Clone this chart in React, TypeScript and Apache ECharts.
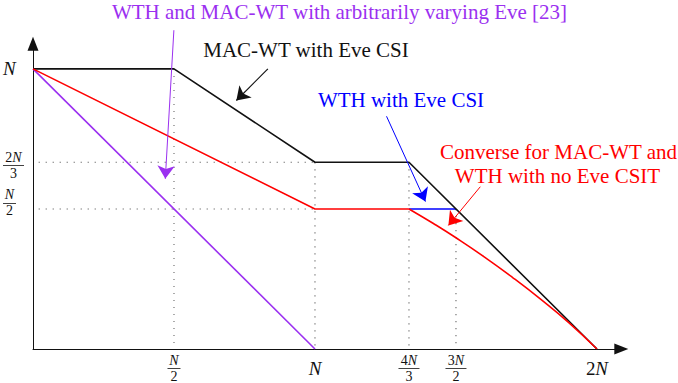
import React, { useEffect, useRef } from "react";
import * as echarts from "echarts";

// Tick positions (in units of N) and their labels
const X_TICKS = [0.5, 1, 4 / 3, 1.5, 2];
const X_LABELS = ["N/2", "N", "4N/3", "3N/2", "2N"];
const Y_TICKS = [1, 2 / 3, 0.5];
const Y_LABELS = ["N", "2N/3", "N/2"];
// vertical nudge of each y label (px, + = down), as in the reference
const Y_LABEL_SHIFT = [0, 3, -6];

// Region corner points (x, y) in units of N
const MAC_WT_EVE_CSI = [[0, 1], [0.5, 1], [1, 2 / 3], [4 / 3, 2 / 3], [2, 0]];
const CONVERSE_LINEAR = [[0, 1], [1, 0.5], [4 / 3, 0.5]];
const CONVERSE_CURVE = [[4 / 3, 0.5], [1.42, 0.448], [1.5, 0.397], [1.6, 0.329], [1.7, 0.256], [1.8, 0.178], [1.9, 0.094], [2, 0]];
const WTH_EVE_CSI = [[4 / 3, 0.5], [1.5, 0.5]];
const ARBITRARY_EVE = [[0, 1], [1, 0]];

// Dotted guide segments
const GUIDES = [
  [[0.5, 1], [0.5, 0]],
  [[0.02, 2 / 3], [1, 2 / 3]],
  [[1, 2 / 3], [1, 0]],
  [[4 / 3, 2 / 3], [4 / 3, 0]],
  [[0.02, 0.5], [1, 0.5]],
  [[1.5, 0.5], [1.5, 0]],
];

// Annotation arrows: [from, tip]
const ARROW_PURPLE = [[0.4996, 1.138], [0.4692, 0.6076]];
const ARROW_BLACK = [[0.8329, 1.0003], [0.7212, 0.8871]];
const ARROW_BLUE = [[1.2537, 0.8308], [1.3917, 0.5262]];
const ARROW_RED = [[1.5863, 0.5793], [1.4731, 0.4413]];

const C_PURPLE = "#9B30F0";
const C_RED = "#FF0000";
const C_BLUE = "#0000FF";
const C_BLACK = "#111111";
const FONT = "Liberation Serif";

const BAR_W = 21;
const BAR_S = 13;

function barWidth(label: string): number {
  return label.split("/")[0].length > 1 ? BAR_W : BAR_S;
}

function mathRich(label: string, shift = 0): string {
  const part = (s: string, r: string, i: string) =>
    s.split("").map((ch) => (ch === "N" ? `{${i}|N}` : `{${r}|${ch}}`)).join("");
  if (label.indexOf("/") >= 0) {
    const [num, den] = label.split("/");
    const gap = num.length > 1 ? "gapW" : "gapS";
    let s = `${part(num, "sr", "si")}\n{${gap}| }\n{sr|${den}}`;
    if (shift > 0) s = `{sp${2 * shift}| }\n` + s;
    if (shift < 0) s = s + `\n{sp${-2 * shift}| }`;
    return s;
  }
  return part(label, "br", "bi");
}

const RICH: any = {
  bi: { fontFamily: FONT, fontStyle: "italic", fontSize: 19, color: C_BLACK, align: "center", lineHeight: 20 },
  br: { fontFamily: FONT, fontSize: 19, color: C_BLACK, align: "center", lineHeight: 20 },
  si: { fontFamily: FONT, fontStyle: "italic", fontSize: 14, color: C_BLACK, align: "center", lineHeight: 12 },
  sr: { fontFamily: FONT, fontSize: 14, color: C_BLACK, align: "center", lineHeight: 12 },
  gapW: { width: BAR_W, height: 4, lineHeight: 4, fontSize: 1, color: "rgba(0,0,0,0)", align: "center" },
  gapS: { width: BAR_S, height: 4, lineHeight: 4, fontSize: 1, color: "rgba(0,0,0,0)", align: "center" },
  sp6: { height: 6, lineHeight: 6, fontSize: 1, color: "rgba(0,0,0,0)", align: "center" },
  sp12: { height: 12, lineHeight: 12, fontSize: 1, color: "rgba(0,0,0,0)", align: "center" },
};

export default function App() {
  const ref = useRef<HTMLDivElement>(null);
  useEffect(() => {
    if (!ref.current) return;
    const chart = echarts.init(ref.current, null, { renderer: "svg" });
    const lineSeries = (data: number[][], color: string, z: number, smooth: number | boolean = false) => ({
      type: "line",
      data,
      showSymbol: false,
      symbol: "none",
      smooth,
      z,
      lineStyle: { color, width: 1.6 },
      silent: true,
    });
    const arrow = (coords: number[][], color: string, width: number) => ({
      type: "lines",
      coordinateSystem: "cartesian2d",
      clip: false,
      z: 10,
      symbol: ["none", "arrow"],
      symbolSize: 13,
      silent: true,
      lineStyle: { color, width, opacity: 1, curveness: 0 },
      data: [{ coords }],
    });
    const guideSeries = GUIDES.map((g) => ({
      type: "line",
      data: g,
      showSymbol: false,
      symbol: "none",
      z: 1,
      silent: true,
      lineStyle: { color: "#666", width: 1.1, type: [1.2, 5.8] },
    }));
    const txt = (text: string, x: number, y: number, fill: string) => ({
      type: "text",
      x,
      y,
      z: 20,
      style: { text, fill, fontFamily: FONT, fontSize: 21, align: "center", verticalAlign: "middle" },
    });
    const axisLine = {
      show: true,
      onZero: false,
      symbol: ["none", "triangle"],
      symbolSize: [11, 14],
      lineStyle: { color: C_BLACK, width: 1 },
    };
    const X_LABEL_MARGIN = 19;
    const Y_LABEL_MARGIN = 30;
    const findIdx = (ticks: number[], v: number) => ticks.findIndex((t) => Math.abs(t - v) < 1e-6);
    chart.setOption({
      animation: false,
      backgroundColor: "#ffffff",
      grid: { left: 31.7, top: 43.7, width: 589.6, height: 308 },
      xAxis: {
        type: "value",
        min: 0,
        max: 2.0863,
        splitLine: { show: false },
        axisTick: { show: false },
        axisLine,
        axisLabel: {
          customValues: X_TICKS,
          formatter: (v: number) => {
            const i = findIdx(X_TICKS, v);
            return i < 0 ? "" : mathRich(X_LABELS[i]);
          },
          rich: RICH,
          margin: X_LABEL_MARGIN,
          verticalAlign: "middle",
          color: C_BLACK,
        },
      },
      yAxis: {
        type: "value",
        min: 0,
        max: 1.0899,
        splitLine: { show: false },
        axisTick: { show: false },
        axisLine,
        axisLabel: {
          customValues: Y_TICKS,
          formatter: (v: number) => {
            const i = findIdx(Y_TICKS, v);
            return i < 0 ? "" : mathRich(Y_LABELS[i], Y_LABEL_SHIFT[i]);
          },
          rich: RICH,
          margin: Y_LABEL_MARGIN,
          align: "left",
          color: C_BLACK,
        },
      },
      series: [
        ...guideSeries,
        lineSeries(ARBITRARY_EVE, C_PURPLE, 3),
        lineSeries(WTH_EVE_CSI, C_BLUE, 4),
        lineSeries(MAC_WT_EVE_CSI, C_BLACK, 5),
        lineSeries(CONVERSE_LINEAR, C_RED, 6),
        lineSeries(CONVERSE_CURVE, C_RED, 6, 0.5),
        arrow(ARROW_PURPLE, C_PURPLE, 1),
        arrow(ARROW_BLACK, C_BLACK, 1.2),
        arrow(ARROW_BLUE, C_BLUE, 1),
        arrow(ARROW_RED, C_RED, 1),
      ],
    });

    // fraction bars for the tick labels, placed through the axes' own scales
    const bars: any[] = [];
    const axisY = chart.convertToPixel({ yAxisIndex: 0 }, 0) as number;
    const axisX = chart.convertToPixel({ xAxisIndex: 0 }, 0) as number;
    X_LABELS.forEach((lab, i) => {
      if (lab.indexOf("/") < 0) return;
      const cx = chart.convertToPixel({ xAxisIndex: 0 }, X_TICKS[i]) as number;
      const w = barWidth(lab);
      const cy = Math.round(axisY + X_LABEL_MARGIN) + 0.5;
      bars.push({
        type: "line",
        z: 20,
        shape: { x1: cx - w / 2, y1: cy, x2: cx + w / 2, y2: cy },
        style: { stroke: C_BLACK, lineWidth: 0.8 },
      });
    });
    Y_LABELS.forEach((lab, i) => {
      if (lab.indexOf("/") < 0) return;
      const ty = chart.convertToPixel({ yAxisIndex: 0 }, Y_TICKS[i]) as number;
      const cy = Math.round(ty + Y_LABEL_SHIFT[i]) + 0.5;
      const w = barWidth(lab);
      const x0 = axisX - Y_LABEL_MARGIN;
      bars.push({
        type: "line",
        z: 20,
        shape: { x1: x0, y1: cy, x2: x0 + w, y2: cy },
        style: { stroke: C_BLACK, lineWidth: 0.8 },
      });
    });

    chart.setOption({
      graphic: [
        ...bars,
        txt("WTH and MAC-WT with arbitrarily varying Eve [23]", 339.5, 11.5, C_PURPLE),
        txt("MAC-WT with Eve CSI", 306, 49.5, C_BLACK),
        txt("WTH with Eve CSI", 401, 99.7, C_BLUE),
        txt("Converse for MAC-WT and", 558.5, 152, C_RED),
        txt("WTH with no Eve CSIT", 557.5, 176.3, C_RED),
      ],
    });
    return () => chart.dispose();
  }, []);
  return (
    <div
      ref={ref}
      style={{ position: "fixed", left: 0, top: 0, width: 678, height: 383, background: "#fff" }}
    />
  );
}
